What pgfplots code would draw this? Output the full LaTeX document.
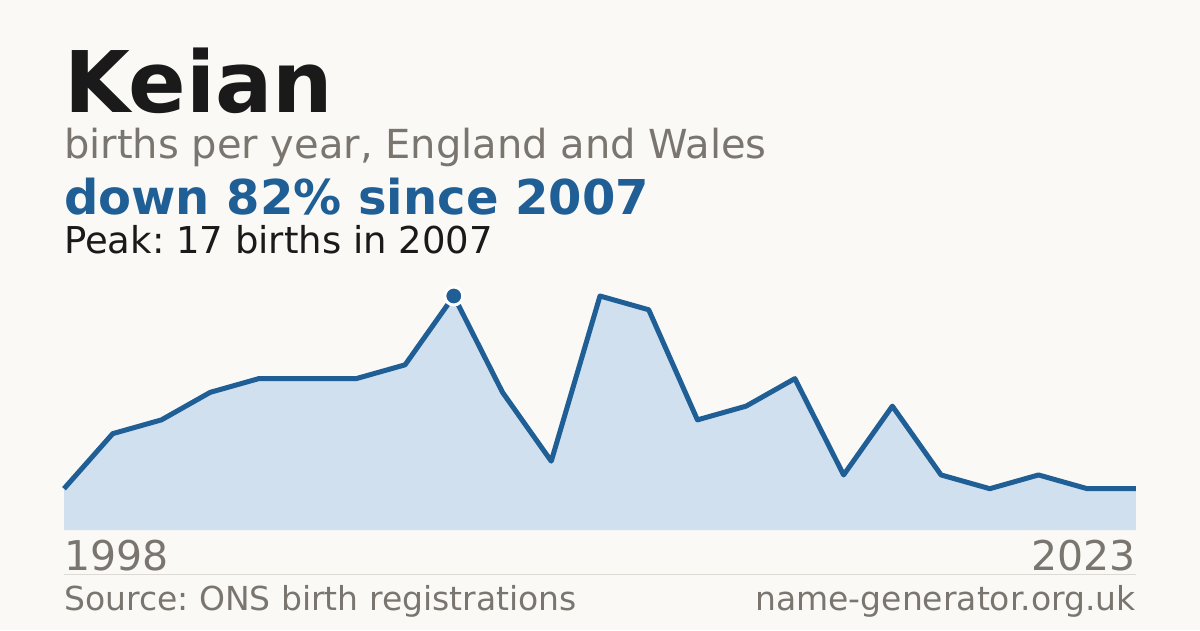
\documentclass[border=0pt]{standalone}
\usepackage{pgfplots}
\pgfplotsset{compat=1.18}
\usepackage{fontspec}
\setmainfont{DejaVu Sans}
\frenchspacing
\definecolor{bg}{HTML}{FAF9F5}
\definecolor{ink}{HTML}{1A1A1A}
\definecolor{muted}{HTML}{7A766F}
\definecolor{accent}{HTML}{1F5F96}
\definecolor{areafill}{HTML}{D0E0EF}
\definecolor{rule}{HTML}{DDDAD3}
\begin{document}
\begin{tikzpicture}[x=1pt,y=1pt]
\fill[bg] (0,0) rectangle (1200,630);
% headings
\node[anchor=base west,inner sep=0,text=ink] at (64,517) {\fontsize{85}{85}\selectfont\bfseries Keian};
\node[anchor=base west,inner sep=0,text=muted] at (64,471) {\fontsize{40}{40}\selectfont births per year, England and Wales};
\node[anchor=base west,inner sep=0,text=accent] at (64,415) {\fontsize{48}{48}\selectfont\bfseries down 82\% since 2007};
\node[anchor=base west,inner sep=0,text=ink] at (64,376) {\fontsize{37}{37}\selectfont Peak: 17 births in 2007};
\begin{axis}[
  at={(64pt,100pt)}, anchor=origin,
  scale only axis, width=1072pt, height=234pt,
  xmin=0, xmax=22, ymin=0, ymax=17,
  hide axis, clip=false]
\addplot[fill=areafill, draw=none] coordinates {
(0,3) (1,7) (2,8) (3,10) (4,11) (5,11) (6,11) (7,12) (8,17) (9,10) (10,5)
(11,17) (12,16) (13,8) (14,9) (15,11) (16,4) (17,9) (18,4) (19,3) (20,4)
(21,3) (22,3)
} \closedcycle;
\addplot[accent, line width=5pt, line join=round] coordinates {
(0,3) (1,7) (2,8) (3,10) (4,11) (5,11) (6,11) (7,12) (8,17) (9,10) (10,5)
(11,17) (12,16) (13,8) (14,9) (15,11) (16,4) (17,9) (18,4) (19,3) (20,4)
(21,3) (22,3)
};
\addplot[only marks, mark=*, mark size=9pt, mark options={fill=accent, draw=white, line width=3pt}] coordinates {(8,17)};
\end{axis}
% footer
\node[anchor=base west,inner sep=0,text=muted] at (64,60) {\fontsize{41}{41}\selectfont 1998};
\node[anchor=base east,inner sep=0,text=muted] at (1136,60) {\fontsize{41}{41}\selectfont 2023};
\draw[rule, line width=1pt] (64,56) -- (1136,56);
\node[anchor=base west,inner sep=0,text=muted] at (64,20) {\fontsize{33}{33}\selectfont Source: ONS birth registrations};
\node[anchor=base east,inner sep=0,text=muted] at (1136,20) {\fontsize{33}{33}\selectfont name-generator.org.uk};
\end{tikzpicture}
\end{document}
